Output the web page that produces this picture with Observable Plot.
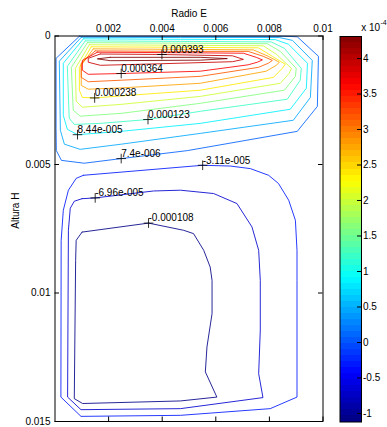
<!DOCTYPE html>
<html><head><meta charset="utf-8">
<script src="https://cdn.jsdelivr.net/npm/d3@7"></script>
<script src="https://cdn.jsdelivr.net/npm/@observablehq/plot@0.6"></script>
<style>
body{margin:0;background:#fff;}
#wrap{position:relative;width:387px;height:427px;overflow:hidden;}
#wrap svg{position:absolute;left:0;top:0;}
</style></head><body><div id="wrap"></div>
<script>
// contour levels (value of each drawn contour line)
const levels = [7.4e-6, 4.59e-5, 8.44e-5, 1.23e-4, 1.61e-4, 2.0e-4, 2.38e-4, 2.77e-4, 3.15e-4, 3.64e-4, 3.93e-4, 4.31e-4, -3.11e-5, -6.96e-5, -1.08e-4];
// contour paths, [Radio E, Altura H] in mm (1e-3 m), one list per level above
const loopsMM = [
 [[0.91,0.01],[4.68,0.01],[8.52,0.01],[9.04,0.03],[9.83,0.79],[9.79,2.74],[9.04,3.71],[4.94,4.46],[2.47,4.77],[1.09,4.95],[0.24,4.84],[0.05,4.46],[0.04,3.59],[0.04,0.87],[0.91,0.01]],
 [[0.98,0.05],[4.68,0.06],[8.37,0.06],[8.86,0.17],[9.60,0.95],[9.53,2.39],[8.89,3.28],[5.42,3.79],[2.47,4.21],[0.94,4.41],[0.35,4.21],[0.20,3.67],[0.16,0.98],[0.98,0.05]],
 [[1.06,0.11],[4.68,0.13],[8.22,0.14],[8.71,0.32],[9.42,1.06],[9.38,2.03],[8.78,2.85],[5.42,3.40],[2.47,3.71],[0.84,3.84],[0.46,3.63],[0.31,3.09],[0.31,1.06],[1.06,0.11]],
 [[1.13,0.19],[4.68,0.21],[8.07,0.23],[8.56,0.48],[9.19,1.26],[9.15,1.72],[8.67,2.46],[5.42,2.93],[3.47,3.25],[1.69,3.40],[0.72,3.44],[0.53,3.20],[0.46,1.18],[1.13,0.19]],
 [[1.21,0.26],[4.68,0.28],[7.92,0.30],[8.41,0.60],[9.00,1.26],[8.97,1.57],[8.56,2.11],[5.42,2.62],[2.47,3.01],[0.94,3.12],[0.68,2.89],[0.61,1.22],[1.21,0.26]],
 [[1.28,0.34],[4.68,0.36],[7.77,0.38],[8.26,0.71],[8.82,1.26],[8.74,1.45],[8.41,1.84],[5.42,2.35],[2.47,2.66],[1.02,2.77],[0.79,2.54],[0.76,1.26],[1.28,0.34]],
 [[1.35,0.42],[4.68,0.44],[7.59,0.46],[8.11,0.79],[8.59,1.10],[8.48,1.26],[8.15,1.61],[5.42,2.11],[2.47,2.33],[1.48,2.41],[1.02,2.39],[0.91,2.11],[0.91,1.22],[1.35,0.42]],
 [[1.43,0.50],[4.68,0.52],[7.40,0.54],[7.96,0.79],[8.37,1.02],[8.26,1.14],[7.88,1.37],[5.42,1.84],[2.47,2.02],[1.24,2.07],[0.98,1.92],[0.98,1.14],[1.43,0.50]],
 [[1.50,0.58],[4.68,0.60],[7.21,0.60],[7.77,0.79],[8.11,0.95],[7.96,1.06],[7.59,1.22],[5.42,1.57],[2.47,1.72],[1.24,1.78],[0.98,1.61],[0.98,1.06],[1.50,0.58]],
 [[1.58,0.63],[4.68,0.65],[7.03,0.67],[7.51,0.83],[7.74,0.93],[7.55,1.02],[7.21,1.12],[5.42,1.37],[2.47,1.46],[1.24,1.49],[1.02,1.33],[1.02,0.95],[1.58,0.63]],
 [[1.69,0.70],[3.99,0.72],[6.62,0.77],[7.03,0.91],[6.62,1.00],[3.93,1.08],[1.69,1.14],[1.24,1.02],[1.24,0.87],[1.69,0.70]],
 [[2.06,0.83],[5.42,0.83],[6.43,0.88],[5.42,0.94],[2.06,0.96],[1.58,0.89],[2.06,0.83]],
 [[1.06,5.42],[5.51,5.03],[6.54,5.06],[7.29,5.16],[7.97,5.42],[8.34,5.74],[8.72,6.39],[8.97,7.17],[9.03,8.34],[9.03,9.51],[9.03,14.05],[8.03,14.50],[4.68,14.76],[0.97,14.80],[0.22,14.05],[0.23,7.95],[0.31,6.78],[0.50,6.00],[0.79,5.54],[1.06,5.42]],
 [[1.01,6.33],[1.50,6.30],[3.68,6.03],[4.68,6.00],[5.92,6.13],[6.79,6.52],[7.35,7.43],[7.60,8.34],[7.66,9.51],[7.66,11.44],[7.60,13.14],[7.76,14.07],[4.68,14.50],[0.97,14.54],[0.47,14.05],[0.50,7.56],[0.57,6.70],[0.72,6.43],[1.01,6.33]],
 [[1.01,7.63],[3.49,7.28],[4.80,7.56],[5.17,7.69],[5.55,8.34],[5.79,8.99],[5.86,9.51],[5.86,10.80],[5.67,12.10],[5.61,13.07],[6.04,14.05],[4.68,14.20],[1.03,14.30],[0.72,14.11],[0.77,8.73],[0.79,7.95],[1.01,7.63]]
];
// contour labels (clabel) in mm
const labelText = ["0.000393","0.000364","0.000238","0.000123","8.44e-005","7.4e-006","-3.11e-005","-6.96e-005","-0.000108"];
const labelX = [3.99,2.47,1.48,3.47,0.84,2.47,5.51,1.50,3.49];
const labelY = [0.72,1.46,2.41,3.25,3.84,4.77,5.03,6.30,7.28];
// axes
const xTicks = [0.002,0.004,0.006,0.008,0.01];
const xTickLabels = ["0.002","0.004","0.006","0.008","0.01"];
const yTicks = [0,0.005,0.01,0.015];
const yTickLabels = ["0","0.005","0.01","0.015"];
// colorbar
const cmin = -1.12e-4, cmax = 4.31e-4;
const cbTicks = [-1,-0.5,0,0.5,1,1.5,2,2.5,3,3.5,4];
const cbTickLabels = ["-1","-0.5","0","0.5","1","1.5","2","2.5","3","3.5","4"];
const jetColors = ["#000080","#0000ff","#00ffff","#ffff00","#ff0000","#800000"];
const jetT = [0,1/8,3/8,5/8,7/8,1];

const rows = [];
loopsMM.forEach((pts,i)=>pts.forEach(([x,y])=>rows.push({loop:i,level:levels[i],x:x/1000,y:y/1000})));
const labels = labelText.map((t,i)=>({text:t,x:labelX[i]/1000,y:labelY[i]/1000}));
const colorScale = {type:"linear",domain:jetT.map(t=>cmin+t*(cmax-cmin)),range:jetColors,interpolate:"rgb",clamp:true};
const xFmt = new Map(xTicks.map((d,i)=>[d,xTickLabels[i]]));
const yFmt = new Map(yTicks.map((d,i)=>[d,yTickLabels[i]]));

const W=387,H=427,mL=54.5,mR=64.5,mT=35.5,mB=6;
const plotW=W-mL-mR, plotH=H-mT-mB;
const font = "'Liberation Sans', Arial, Helvetica, sans-serif";

const main = Plot.plot({
  width:W,height:H,marginLeft:mL,marginRight:mR,marginTop:mT,marginBottom:mB,
  style:{fontFamily:font,fontSize:"10px",color:"#000",background:"#fff"},
  x:{domain:[0,0.01]},
  y:{domain:[0,0.015],reverse:true},
  color:colorScale,
  marks:[
    Plot.line(rows,{x:"x",y:"y",z:"loop",stroke:"level",strokeWidth:0.85}),
    Plot.dot(labels,{x:"x",y:"y",symbol:"plus",r:3.2,stroke:"#000",fill:"none",strokeWidth:0.8}),
    Plot.text(labels,{x:"x",y:"y",text:"text",textAnchor:"start",lineAnchor:"middle",dy:-4.8,fill:"#000"}),
    Plot.frame({stroke:"#000"}),
    Plot.tickX(xTicks,{x:d=>d,insetBottom:plotH-4.5,stroke:"#000"}),
    Plot.tickX(xTicks,{x:d=>d,insetTop:plotH-4.5,stroke:"#000"}),
    Plot.tickY(yTicks,{y:d=>d,insetRight:plotW-4.5,stroke:"#000"}),
    Plot.tickY(yTicks,{y:d=>d,insetLeft:plotW-4.5,stroke:"#000"}),
    Plot.axisX({ticks:xTicks,anchor:"top",tickSize:0,tickPadding:4,tickFormat:d=>xFmt.get(d),label:null}),
    Plot.axisY({ticks:yTicks,anchor:"left",tickSize:0,tickPadding:4.5,tickFormat:d=>yFmt.get(d),label:null}),
    Plot.text(["Radio E"],{text:d=>d,frameAnchor:"top",dy:-22,lineAnchor:"middle",fill:"#000"}),
    Plot.text(["Altura H"],{text:d=>d,frameAnchor:"left",dx:-39,rotate:-90,lineAnchor:"middle",fill:"#000"})
  ]
});

// colorbar bands (64-colour jet colormap)
const nb = 64;
const bands = d3.range(nb).map(i=>({lo:cmin+i*(cmax-cmin)/nb, hi:cmin+(i+1)*(cmax-cmin)/nb, mid:cmin+(i+0.5)*(cmax-cmin)/nb}));
const cbL=339.5, cbR=26, cbT=36, cbB=5.5, cbW=W-cbL-cbR;
const cbFmt = new Map(cbTicks.map((d,i)=>[d*1e-4,cbTickLabels[i]]));
const cb = Plot.plot({
  width:W,height:H,marginLeft:cbL,marginRight:cbR,marginTop:cbT,marginBottom:cbB,
  style:{fontFamily:font,fontSize:"10px",color:"#000",background:"transparent"},
  x:{domain:[0,1],axis:null},
  y:{domain:[cmin,cmax]},
  color:colorScale,
  marks:[
    Plot.rect(bands,{x1:0,x2:1,y1:"lo",y2:"hi",fill:"mid",shapeRendering:"crispEdges"}),
    Plot.frame({stroke:"#000"}),
    Plot.tickY(cbTicks,{y:d=>d*1e-4,insetLeft:cbW-4,stroke:"#000"}),
    Plot.axisY({ticks:cbTicks.map(d=>d*1e-4),anchor:"right",tickSize:0,tickPadding:1.5,tickFormat:d=>cbFmt.get(d),label:null}),
    Plot.text(["x 10"],{text:d=>d,frameAnchor:"top-right",dx:-0.3,dy:-8.7,textAnchor:"start",lineAnchor:"middle",fill:"#000"}),
    Plot.text(["-4"],{text:d=>d,frameAnchor:"top-right",dx:19,dy:-14.2,textAnchor:"start",lineAnchor:"middle",fontSize:7,fill:"#000"})
  ]
});
const wrap = document.getElementById("wrap");
wrap.appendChild(main);
wrap.appendChild(cb);
</script></body></html>
